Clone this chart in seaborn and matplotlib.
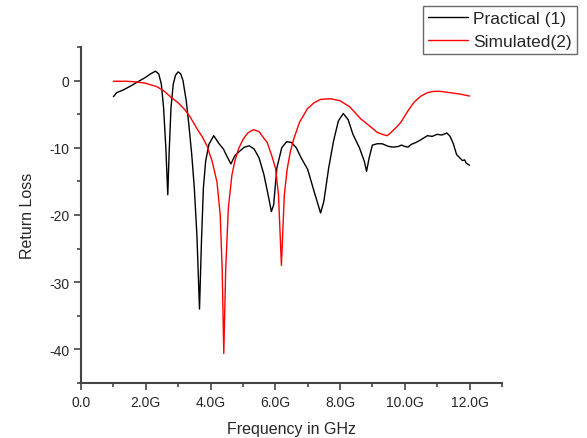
import numpy as np
import pandas as pd
import seaborn as sns
import matplotlib.pyplot as plt
from matplotlib.ticker import MultipleLocator, FixedLocator

# measured curve (black)
practical_f = [1.0, 1.1, 1.3, 1.5, 1.75, 2.0, 2.15, 2.3, 2.4, 2.48, 2.55, 2.62, 2.68,
               2.72, 2.78, 2.85, 2.92, 3.0, 3.08, 3.15, 3.25, 3.33, 3.42, 3.5, 3.58,
               3.66, 3.72, 3.78, 3.85, 3.95, 4.1, 4.25, 4.4, 4.5, 4.63, 4.75, 4.9,
               5.05, 5.2, 5.35, 5.5, 5.65, 5.8, 5.88, 5.95, 6.05, 6.2, 6.35, 6.5,
               6.65, 6.8, 7.0, 7.2, 7.4, 7.5, 7.65, 7.8, 7.95, 8.1, 8.25, 8.4, 8.6,
               8.75, 8.82, 8.9, 9.0, 9.15, 9.3, 9.5, 9.66, 9.8, 9.9, 10.0, 10.1,
               10.2, 10.35, 10.5, 10.7, 10.85, 11.0, 11.15, 11.3, 11.4, 11.5, 11.6,
               11.7, 11.78, 11.85, 11.9, 12.0]
practical_rl = [-2.4, -1.8, -1.4, -0.9, -0.2, 0.5, 1.0, 1.4, 1.0, -0.5, -4.0, -10.0, -17.0,
                -11.0, -4.0, -0.5, 0.8, 1.3, 1.0, 0.0, -3.0, -6.5, -11.0, -16.0, -23.0,
                -34.0, -24.0, -16.0, -12.0, -9.5, -8.2, -9.3, -10.2, -11.2, -12.4, -11.2, -10.5,
                -9.9, -9.7, -10.2, -11.5, -14.0, -17.5, -19.5, -18.5, -13.0, -10.0, -9.1, -9.2,
                -10.0, -11.5, -13.2, -16.5, -19.7, -18.0, -13.0, -9.0, -6.0, -4.9, -5.8, -8.0, -10.0,
                -12.0, -13.5, -11.5, -9.6, -9.4, -9.4, -9.8, -9.9, -9.8, -9.6, -9.8, -9.9,
                -9.5, -9.2, -8.8, -8.2, -8.3, -8.0, -8.1, -7.8, -8.3, -9.4, -11.0,
                -11.5, -11.9, -11.8, -12.3, -12.6]

# simulated curve (red)
simulated_f = [1.0, 1.4, 1.72, 2.0, 2.34, 2.55, 2.76, 3.0, 3.2, 3.37, 3.6, 3.75, 3.89,
               4.05, 4.2, 4.3, 4.36, 4.41, 4.47, 4.55, 4.66, 4.75, 4.87, 5.0, 5.15,
               5.33, 5.5, 5.65, 5.75, 5.9, 6.01, 6.1, 6.19, 6.28, 6.37, 6.47, 6.57,
               6.75, 6.99, 7.2, 7.4, 7.71, 8.0, 8.3, 8.64, 8.9, 9.15, 9.3, 9.46, 9.6,
               9.75, 9.88, 10.1, 10.29, 10.5, 10.7, 10.9, 11.1, 11.4, 11.7, 12.0]
simulated_rl = [-0.1, -0.1, -0.2, -0.4, -0.9, -1.5, -2.4, -3.3, -4.3, -5.4, -7.3, -8.4, -9.7,
                -12.0, -15.1, -20.0, -28.0, -40.6, -28.0, -19.0, -14.1, -12.0, -10.1, -8.8, -7.8,
                -7.3, -7.6, -8.6, -9.2, -11.3, -13.1, -17.0, -27.5, -17.0, -13.1, -10.5, -8.7,
                -6.2, -4.2, -3.3, -2.8, -2.7, -3.0, -3.9, -5.7, -6.7, -7.7, -8.0, -8.2, -7.6,
                -6.9, -6.2, -4.5, -3.2, -2.3, -1.8, -1.6, -1.6, -1.8, -2.0, -2.3]

x_ticks = [0, 2, 4, 6, 8, 10, 12]
x_labels = ['0.0', '2.0G', '4.0G', '6.0G', '8.0G', '10.0G', '12.0G']

sns.set_style('white')
plt.rcParams['font.family'] = ['Liberation Sans', 'DejaVu Sans']
plt.rcParams['axes.unicode_minus'] = False

df = pd.concat([
    pd.DataFrame({'f': practical_f, 'rl': practical_rl, 'series': 'Practical (1)'}),
    pd.DataFrame({'f': simulated_f, 'rl': simulated_rl, 'series': 'Simulated(2)'}),
])

fig = plt.figure(figsize=(5.87, 4.39), dpi=100)
ax = fig.add_axes([0.138, 0.1253, 0.717, 0.7654])
sns.lineplot(data=df, x='f', y='rl', hue='series', sort=False, estimator=None,
             palette={'Practical (1)': 'black', 'Simulated(2)': 'red'},
             linewidth=1.0, ax=ax, legend=False)

ax.set_xlim(0, 13)
ax.set_ylim(-45, 5)
ax.xaxis.set_major_locator(FixedLocator(x_ticks))
ax.set_xticklabels(x_labels)
ax.xaxis.set_minor_locator(MultipleLocator(1))
ax.yaxis.set_major_locator(MultipleLocator(10))
ax.yaxis.set_minor_locator(MultipleLocator(5))
ax.tick_params(which='both', direction='out', color='#444444', labelsize=10)
ax.tick_params(which='major', length=5, width=1.2, left=True, bottom=True)
ax.tick_params(which='minor', length=3, width=1.2, left=True, bottom=True)
for side in ['top', 'right']:
    ax.spines[side].set_visible(False)
for side in ['left', 'bottom']:
    ax.spines[side].set_color('#444444')
    ax.spines[side].set_linewidth(1.5)

ax.set_xlabel('Frequency in GHz', fontsize=11.5, labelpad=9)
ax.set_ylabel('Return Loss', fontsize=11.5, labelpad=10)

handles = [plt.Line2D([], [], color='black', lw=1.0),
           plt.Line2D([], [], color='red', lw=1.0)]
leg = fig.legend(handles, ['Practical (1)', 'Simulated(2)'],
                 loc='upper right', bbox_to_anchor=(0.983, 0.985),
                 fontsize=12.5, frameon=True, fancybox=False,
                 borderpad=0.3, labelspacing=0.45, handlelength=2.3,
                 handletextpad=0.3, borderaxespad=0)
leg.get_frame().set_edgecolor('#444444')
leg.get_frame().set_linewidth(1.0)

fig.savefig('out.png', dpi=100)
